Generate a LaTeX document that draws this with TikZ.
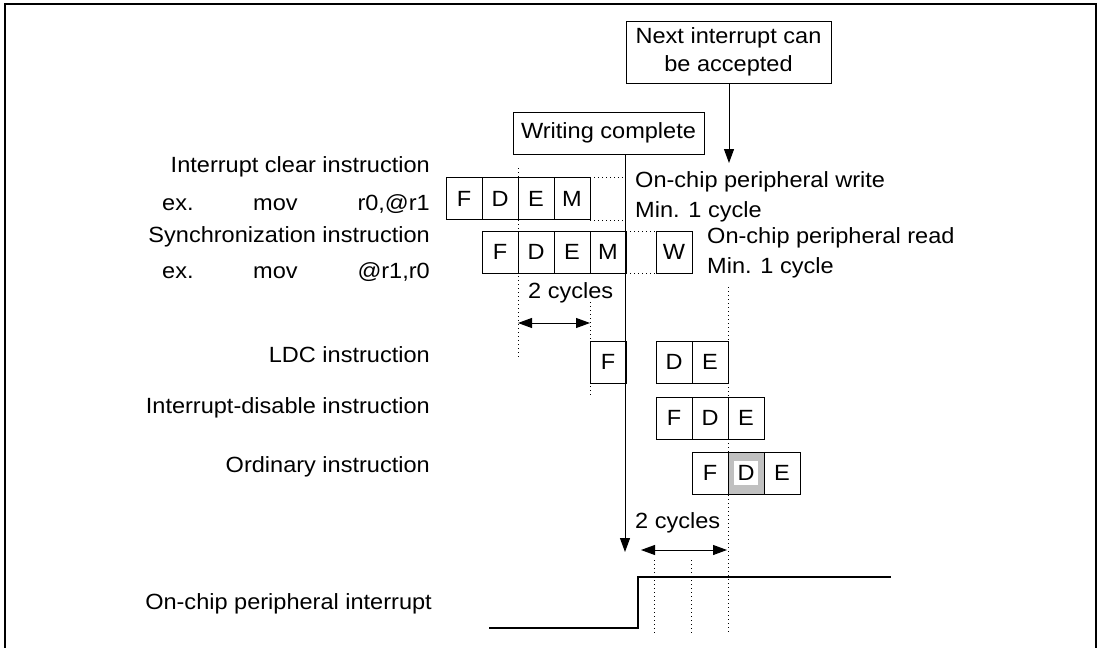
\documentclass[tikz,border=0pt]{standalone}
\usepackage{fontspec}
\setmainfont{Liberation Sans}[FakeStretch=1.07]
\usetikzlibrary{arrows.meta}
\definecolor{cellgray}{RGB}{192,192,192}
\begin{document}
\begin{tikzpicture}[x=1pt,y=-1pt,
  every node/.style={font=\fontsize{22}{28}\selectfont},
  lbl/.style={inner sep=0pt},
  cell/.style={draw,line width=1pt,minimum width=36pt,minimum height=42pt,inner sep=0pt},
  boxnote/.style={draw,line width=1pt,inner sep=0pt,align=center},
  dots/.style={line width=0.9pt,dash pattern=on 1pt off 3pt},
  sig/.style={line width=1.2pt},
  tip/.style={-{Triangle[length=14pt,width=10pt]},line width=1pt},
  dtip/.style={{Triangle[length=14pt,width=10pt]}-{Triangle[length=14pt,width=10pt]},line width=1pt}]
\useasboundingbox (0,0) rectangle (1101,648);
% frame
\draw[line width=1.5pt] (5,652) -- (5,4) -- (1096,4) -- (1096,652);

% annotation boxes
\node[boxnote,minimum width=205pt,minimum height=62pt] (ni) at (728.5,52) {Next interrupt can\\be accepted};
\node[boxnote,minimum width=191pt,minimum height=42pt] (wc) at (608.5,133) {Writing complete};

% left labels
\node[lbl,anchor=base east] (l1) at (430,172) {Interrupt clear instruction};
\node[lbl,anchor=base west] (l1a) at (162,210) {ex.};
\node[lbl,anchor=base west] (l1b) at (253,210) {mov};
\node[lbl,anchor=base east] (l1c) at (430,210) {r0,@r1};
\node[lbl,anchor=base east] (l2) at (430,242) {Synchronization instruction};
\node[lbl,anchor=base west] (l2a) at (162,278) {ex.};
\node[lbl,anchor=base west] (l2b) at (253,278) {mov};
\node[lbl,anchor=base east] (l2c) at (430,278) {@r1,r0};
\node[lbl,anchor=base east] (l3) at (430,362) {LDC instruction};
\node[lbl,anchor=base east] (l4) at (430,413) {Interrupt-disable instruction};
\node[lbl,anchor=base east] (l5) at (430,472) {Ordinary instruction};
\node[lbl,anchor=base east] (l6) at (432,609) {On-chip peripheral interrupt};

% right labels
\node[lbl,anchor=base west] (r1) at (635,187) {On-chip peripheral write};
\node[lbl,anchor=base west] (r2) at (635,217) {Min. 1 cycle};
\node[lbl,anchor=base west] (r3) at (707,243) {On-chip peripheral read};
\node[lbl,anchor=base west] (r4) at (707,273) {Min. 1 cycle};
\node[lbl,anchor=base west] (c1) at (528,298) {2 cycles};
\node[lbl,anchor=base west] (c2) at (635,528) {2 cycles};

% dotted guides
\draw[dots] (518,168) -- (518,360);
\draw[dots] (590,302) -- (590,395);
\draw[dots] (728,287) -- (728,635);
\draw[dots] (654,560) -- (654,635);
\draw[dots] (691,560) -- (691,635);
\draw[dots] (590,177) -- (625,177);
\draw[dots] (590,220) -- (625,220);
\draw[dots] (626,231) -- (656,231);
\draw[dots] (626,273) -- (656,273);

% row 1: interrupt clear
\node[cell] (a1) at (464,198.5) {F};
\node[cell] (a2) at (500,198.5) {D};
\node[cell] (a3) at (536,198.5) {E};
\node[cell] (a4) at (572,198.5) {M};
% row 2: synchronization
\node[cell] (b1) at (500,252) {F};
\node[cell] (b2) at (536,252) {D};
\node[cell] (b3) at (572,252) {E};
\node[cell] (b4) at (608,252) {M};
\node[cell] (b5) at (674,252) {W};
% LDC
\node[cell] (c1f) at (608,362) {F};
\node[cell] (c1d) at (674,362) {D};
\node[cell] (c1e) at (710,362) {E};
% interrupt-disable
\node[cell] (d1) at (674,418) {F};
\node[cell] (d2) at (710,418) {D};
\node[cell] (d3) at (746,418) {E};
% ordinary
\node[cell] (e1) at (710,473) {F};
\node[cell,fill=cellgray] (e2) at (746,473) {};
\fill[white] (734,461) rectangle (758,485);
\node[lbl] (e2t) at (e2.center) {D};
\node[cell] (e3) at (782,473) {E};

% arrows
\coordinate (wcend) at (625,552);
\draw[tip] (wc.south -| wcend) -- (wcend);
\coordinate (niend) at (729,163);
\draw[tip] (ni.south -| niend) -- (niend);
\coordinate (ca) at (518,323);
\coordinate (cb) at (590,323);
\draw[dtip] (ca) -- (cb);
\coordinate (cc) at (641,550);
\coordinate (cd) at (727,550);
\draw[dtip] (cc) -- (cd);

% interrupt signal
\coordinate (s0) at (489,628);
\coordinate (s1) at (638,628);
\coordinate (s2) at (638,577);
\coordinate (s3) at (891,577);
\draw[sig] (s0) -- (s1) -- (s2) -- (s3);
\end{tikzpicture}
\end{document}
